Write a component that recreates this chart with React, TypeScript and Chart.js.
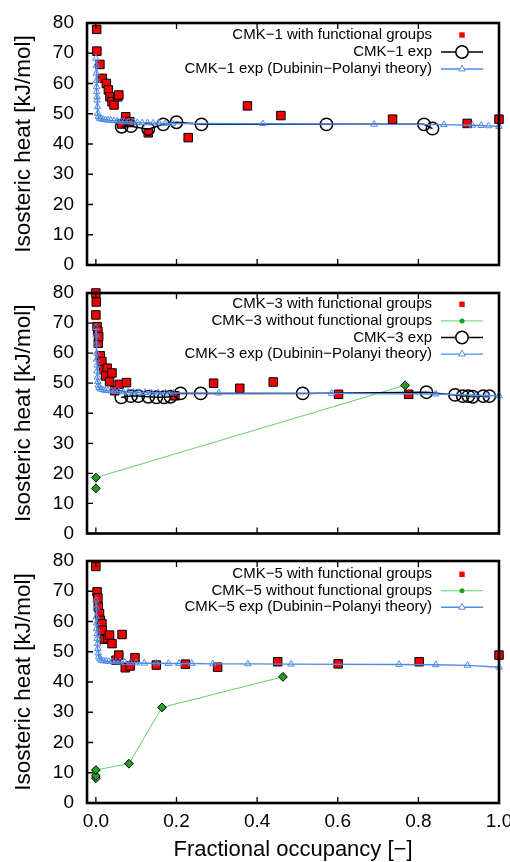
import React, { useEffect, useRef } from 'react';
import { Chart, registerables } from 'chart.js';

Chart.register(...registerables);

const FONT = '"Liberation Sans", Arial, Helvetica, sans-serif';

// ---------- axes ----------
const xTickValues = [0, 0.2, 0.4, 0.6, 0.8, 1.0];
const yTickValues = [0, 10, 20, 30, 40, 50, 60, 70, 80];
const X_MIN = -0.022;
const X_MAX = 1.0;
const Y_MIN = 0;
const Y_MAX = 80;
const yTitle = 'Isosteric heat [kJ/mol]';
const xTitle = 'Fractional occupancy [−]';

// ---------- CMK-1 ----------
const cmk1FgLabel = 'CMK−1 with functional groups';
const cmk1FgX = [0.002, 0.0025, 0.01, 0.016, 0.026, 0.031, 0.035, 0.04, 0.045, 0.054, 0.057, 0.074, 0.064, 0.084, 0.13, 0.229, 0.376, 0.459, 0.736, 0.921, 1.0];
const cmk1FgY = [77.9, 70.7, 66.3, 61.7, 60.0, 57.9, 55.6, 54.0, 52.9, 55.6, 56.2, 49.0, 46.6, 47.4, 43.7, 42.1, 52.6, 49.4, 48.2, 46.8, 48.2];

const cmk1ExpLabel = 'CMK−1 exp';
const cmk1ExpX = [0.064, 0.087, 0.13, 0.167, 0.2, 0.262, 0.572, 0.814, 0.835];
const cmk1ExpY = [45.7, 45.9, 44.9, 46.5, 47.2, 46.5, 46.5, 46.5, 45.1];

const cmk1DpLabel = 'CMK−1 exp (Dubinin−Polanyi theory)';
const cmk1DpX = [0.0, 0.001, 0.001, 0.002, 0.002, 0.002, 0.003, 0.003, 0.004, 0.005, 0.006, 0.009, 0.013, 0.018, 0.024, 0.03, 0.037, 0.045, 0.053, 0.062, 0.071, 0.081, 0.092, 0.103, 0.115, 0.128, 0.142, 0.157, 0.172, 0.19, 0.414, 0.69, 0.863, 0.934, 0.956, 0.974, 1.0];
const cmk1DpY = [68.3, 66.0, 63.4, 61.0, 58.9, 57.3, 55.6, 54.5, 52.3, 50.1, 49.0, 48.5, 48.3, 48.1, 48.0, 47.9, 47.8, 47.7, 47.6, 47.5, 47.4, 47.3, 47.2, 47.1, 47.0, 47.0, 46.9, 46.9, 46.8, 46.8, 46.7, 46.5, 46.4, 46.2, 46.1, 46.0, 45.8];

// ---------- CMK-3 ----------
const cmk3FgLabel = 'CMK−3 with functional groups';
const cmk3FgX = [0.0, 0.001, 0.0, 0.003, 0.005, 0.006, 0.007, 0.011, 0.015, 0.019, 0.028, 0.024, 0.034, 0.04, 0.047, 0.058, 0.076, 0.196, 0.292, 0.357, 0.44, 0.602, 0.776];
const cmk3FgY = [80.0, 77.0, 72.7, 68.8, 67.3, 63.3, 65.5, 59.1, 57.2, 54.5, 55.0, 52.4, 50.5, 53.4, 47.5, 49.6, 50.2, 45.8, 50.0, 48.3, 50.4, 46.3, 46.3];

const cmk3NoFgLabel = 'CMK−3 without functional groups';
const cmk3NoFgX = [0.0, 0.0, 0.767];
const cmk3NoFgY = [15.0, 18.6, 49.3];

const cmk3ExpLabel = 'CMK−3 exp';
const cmk3ExpX = [0.063, 0.087, 0.105, 0.13, 0.15, 0.169, 0.185, 0.21, 0.26, 0.513, 0.82, 0.891, 0.91, 0.924, 0.935, 0.961, 0.976];
const cmk3ExpY = [45.3, 45.7, 45.7, 45.5, 45.3, 45.3, 45.5, 46.6, 46.6, 46.6, 47.0, 46.1, 45.7, 45.7, 45.5, 45.7, 45.7];

const cmk3DpLabel = 'CMK−3 exp (Dubinin−Polanyi theory)';
const cmk3DpX = [0.0, 0.001, 0.001, 0.002, 0.002, 0.003, 0.003, 0.004, 0.005, 0.006, 0.008, 0.012, 0.017, 0.023, 0.03, 0.038, 0.047, 0.057, 0.068, 0.08, 0.093, 0.107, 0.122, 0.138, 0.155, 0.173, 0.192, 0.305, 0.585, 0.843, 0.94, 0.97, 1.0];
const cmk3DpY = [68.5, 66.0, 63.0, 60.0, 58.0, 56.0, 54.0, 52.0, 50.5, 49.3, 48.5, 48.0, 47.8, 47.6, 47.5, 47.4, 47.3, 47.2, 47.1, 47.0, 47.0, 46.9, 46.9, 46.8, 46.8, 46.7, 46.7, 46.7, 46.6, 46.4, 46.0, 45.9, 45.8];

// ---------- CMK-5 ----------
const cmk5FgLabel = 'CMK−5 with functional groups';
const cmk5FgX = [0.0, 0.003, 0.005, 0.006, 0.009, 0.011, 0.015, 0.016, 0.021, 0.03, 0.034, 0.04, 0.05, 0.057, 0.065, 0.073, 0.085, 0.097, 0.15, 0.222, 0.302, 0.451, 0.601, 0.802, 1.0];
const cmk5FgY = [78.2, 69.8, 67.8, 64.8, 62.6, 60.4, 59.3, 57.1, 54.1, 54.4, 55.5, 52.7, 47.2, 48.9, 55.7, 44.7, 45.3, 48.0, 45.6, 45.9, 44.9, 46.7, 46.0, 46.7, 48.9];

const cmk5NoFgLabel = 'CMK−5 without functional groups';
const cmk5NoFgX = [0.0, 0.0, 0.0, 0.082, 0.164, 0.464];
const cmk5NoFgY = [8.2, 9.0, 10.9, 13.0, 31.6, 41.7];

const cmk5DpLabel = 'CMK−5 exp (Dubinin−Polanyi theory)';
const cmk5DpX = [0.0, 0.001, 0.001, 0.002, 0.002, 0.003, 0.003, 0.004, 0.005, 0.006, 0.007, 0.01, 0.014, 0.019, 0.025, 0.032, 0.04, 0.05, 0.06, 0.072, 0.085, 0.1, 0.12, 0.15, 0.18, 0.206, 0.238, 0.29, 0.377, 0.484, 0.752, 0.843, 0.922, 1.0];
const cmk5DpY = [67.0, 64.5, 61.5, 59.5, 57.7, 56.0, 54.4, 52.7, 51.1, 49.6, 48.3, 47.6, 47.2, 47.0, 46.9, 46.8, 46.7, 46.6, 46.6, 46.5, 46.4, 46.3, 46.2, 46.2, 46.1, 46.1, 46.1, 46.0, 46.0, 45.9, 45.8, 45.7, 45.5, 44.9];

// ---------- styles ----------
const RED = '#f00000';
const BLUE = '#4f8ae8';
const GREEN_LINE = '#62d262';
const GREEN_FILL = '#1f9e1f';

const pts = (xs: number[], ys: number[]) => xs.map((x, i) => ({ x, y: ys[i] }));

const fgDataset = (label: string, xs: number[], ys: number[]) => ({
  label,
  data: pts(xs, ys),
  showLine: false,
  pointStyle: 'rect',
  pointRadius: 6,
  pointBackgroundColor: RED,
  pointBorderColor: '#000',
  pointBorderWidth: 1,
  borderColor: RED,
  backgroundColor: RED,
  clip: false,
  order: 4,
});

const noFgDataset = (label: string, xs: number[], ys: number[]) => ({
  label,
  data: pts(xs, ys),
  showLine: true,
  borderColor: GREEN_LINE,
  borderWidth: 1,
  pointStyle: 'rectRot',
  pointRadius: 4.4,
  pointBackgroundColor: GREEN_FILL,
  pointBorderColor: '#000',
  pointBorderWidth: 1,
  clip: false,
  order: 3,
});

const expDataset = (label: string, xs: number[], ys: number[]) => ({
  label,
  data: pts(xs, ys),
  showLine: true,
  borderColor: '#000',
  borderWidth: 1.5,
  pointStyle: 'circle',
  pointRadius: 6.2,
  pointBackgroundColor: 'rgba(0,0,0,0)',
  pointBorderColor: '#000',
  pointBorderWidth: 1.5,
  clip: false,
  order: 2,
});

const dpDataset = (label: string, xs: number[], ys: number[]) => ({
  label,
  data: pts(xs, ys),
  showLine: true,
  borderColor: BLUE,
  borderWidth: 1.4,
  pointStyle: 'triangle',
  pointRadius: 3.8,
  pointBackgroundColor: 'rgba(255,255,255,0)',
  pointBorderColor: BLUE,
  pointBorderWidth: 1,
  clip: false,
  order: 1,
});

// ---------- drawing helpers ----------
function drawMarker(ctx: CanvasRenderingContext2D, kind: string, x: number, y: number) {
  ctx.save();
  if (kind === 'smallRect') {
    ctx.fillStyle = RED;
    ctx.fillRect(x - 2.7, y - 2.7, 5.4, 5.4);
  } else if (kind === 'dot') {
    ctx.fillStyle = GREEN_FILL;
    ctx.beginPath();
    ctx.arc(x, y, 2.5, 0, Math.PI * 2);
    ctx.fill();
  } else if (kind === 'circle') {
    ctx.strokeStyle = '#000';
    ctx.lineWidth = 1.5;
    ctx.beginPath();
    ctx.arc(x, y, 6.2, 0, Math.PI * 2);
    ctx.fillStyle = '#fff';
    ctx.fill();
    ctx.stroke();
  } else if (kind === 'triangle') {
    const r = 3.8;
    ctx.strokeStyle = BLUE;
    ctx.lineWidth = 1;
    ctx.beginPath();
    for (let k = 0; k < 3; k++) {
      const a = (k * 2 * Math.PI) / 3;
      const px = x + Math.sin(a) * r;
      const py = y - Math.cos(a) * r;
      if (k === 0) ctx.moveTo(px, py);
      else ctx.lineTo(px, py);
    }
    ctx.closePath();
    ctx.fillStyle = '#fff';
    ctx.fill();
    ctx.stroke();
  }
  ctx.restore();
}

const framePlugin = {
  id: 'gnuFrame',
  afterDatasetsDraw(chart: any) {
    const { ctx, chartArea: a, scales } = chart;
    const tl = 6;
    ctx.save();
    ctx.strokeStyle = '#000';
    ctx.lineWidth = 1.3;
    ctx.beginPath();
    scales.x.ticks.forEach((t: any) => {
      const px = scales.x.getPixelForValue(t.value);
      ctx.moveTo(px, a.bottom);
      ctx.lineTo(px, a.bottom - tl);
      ctx.moveTo(px, a.top);
      ctx.lineTo(px, a.top + tl);
    });
    scales.y.ticks.forEach((t: any) => {
      const py = scales.y.getPixelForValue(t.value);
      ctx.moveTo(a.left, py);
      ctx.lineTo(a.left + tl, py);
    });
    ctx.stroke();
    ctx.lineWidth = 2.6;
    ctx.strokeRect(a.left, a.top, a.right - a.left, a.bottom - a.top);
    ctx.restore();
  },
};

const legendPlugin = {
  id: 'gnuLegend',
  afterDraw(chart: any, _args: any, opts: any) {
    const ctx: CanvasRenderingContext2D = chart.ctx;
    const entries = opts.entries || [];
    ctx.save();
    ctx.font = `15px ${FONT}`;
    ctx.textAlign = 'right';
    ctx.textBaseline = 'middle';
    ctx.fillStyle = '#000';
    entries.forEach((e: any, i: number) => {
      const y = opts.y0 + i * opts.dy;
      const ds = chart.data.datasets[e.dataset];
      ctx.fillText(ds.label, opts.textRight, y);
      if (e.line) {
        ctx.strokeStyle = ds.borderColor;
        ctx.lineWidth = ds.borderWidth;
        ctx.beginPath();
        ctx.moveTo(opts.lineStart, y);
        ctx.lineTo(opts.lineEnd, y);
        ctx.stroke();
      }
      drawMarker(ctx, e.marker, (opts.lineStart + opts.lineEnd) / 2, y);
    });
    ctx.restore();
  },
};

type PanelProps = {
  top: number;
  height: number;
  padTop: number;
  xHeight: number;
  showX: boolean;
  datasets: any[];
  legend: any;
};

function Panel({ top, height, padTop, xHeight, showX, datasets, legend }: PanelProps) {
  const ref = useRef<HTMLCanvasElement | null>(null);
  useEffect(() => {
    if (!ref.current) return;
    const chart = new Chart(ref.current, {
      type: 'scatter',
      data: { datasets },
      plugins: [framePlugin, legendPlugin],
      options: {
        animation: false,
        responsive: false,
        maintainAspectRatio: false,
        layout: { padding: { top: padTop, right: 11, left: 0, bottom: 0 } },
        plugins: {
          legend: { display: false },
          tooltip: { enabled: false },
          gnuLegend: legend,
        } as any,
        scales: {
          x: {
            type: 'linear',
            min: X_MIN,
            max: X_MAX,
            afterBuildTicks: (s: any) => {
              s.ticks = xTickValues.map((v) => ({ value: v }));
            },
            afterFit: (s: any) => {
              s.height = xHeight;
              s.paddingLeft = 0;
              s.paddingRight = 0;
            },
            grid: { display: false, drawTicks: false },
            border: { display: false },
            ticks: {
              display: showX,
              padding: 7,
              maxRotation: 0,
              autoSkip: false,
              color: '#000',
              font: { family: FONT, size: 19 },
              callback: (v: any) => Number(v).toFixed(1),
            },
            title: {
              display: showX,
              text: xTitle,
              color: '#000',
              font: { family: FONT, size: 22, lineHeight: 1.1 },
              padding: { top: 0, bottom: 0 },
            },
          },
          y: {
            type: 'linear',
            min: Y_MIN,
            max: Y_MAX,
            afterBuildTicks: (s: any) => {
              s.ticks = yTickValues.map((v) => ({ value: v }));
            },
            afterFit: (s: any) => {
              s.width = 87;
              s.paddingTop = 0;
              s.paddingBottom = 0;
            },
            grid: { display: false, drawTicks: false },
            border: { display: false },
            ticks: {
              padding: 13,
              autoSkip: false,
              color: '#000',
              font: { family: FONT, size: 19 },
            },
            title: {
              display: true,
              text: yTitle,
              color: '#000',
              font: { family: FONT, size: 22.5, lineHeight: 1.2 },
              padding: { top: 10, bottom: 0 },
            },
          },
        },
      } as any,
    });
    return () => chart.destroy();
  }, []);
  return (
    <canvas
      ref={ref}
      width={510}
      height={height}
      style={{ position: 'absolute', left: 0, top, width: 510, height, display: 'block' }}
    />
  );
}

const legendGeom = { textRight: 432, lineStart: 441, lineEnd: 483 };

export default function App() {
  const ds1 = [
    fgDataset(cmk1FgLabel, cmk1FgX, cmk1FgY),
    expDataset(cmk1ExpLabel, cmk1ExpX, cmk1ExpY),
    dpDataset(cmk1DpLabel, cmk1DpX, cmk1DpY),
  ];
  const ds2 = [
    fgDataset(cmk3FgLabel, cmk3FgX, cmk3FgY),
    noFgDataset(cmk3NoFgLabel, cmk3NoFgX, cmk3NoFgY),
    expDataset(cmk3ExpLabel, cmk3ExpX, cmk3ExpY),
    dpDataset(cmk3DpLabel, cmk3DpX, cmk3DpY),
  ];
  const ds3 = [
    fgDataset(cmk5FgLabel, cmk5FgX, cmk5FgY),
    noFgDataset(cmk5NoFgLabel, cmk5NoFgX, cmk5NoFgY),
    dpDataset(cmk5DpLabel, cmk5DpX, cmk5DpY),
  ];
  return (
    <div style={{ position: 'absolute', left: 0, top: 0, width: 510, height: 862, background: '#fff', overflow: 'hidden' }}>
      <Panel
        top={0}
        height={280}
        padTop={23}
        xHeight={15}
        showX={false}
        datasets={ds1}
        legend={{
          ...legendGeom,
          y0: 35,
          dy: 17,
          entries: [
            { dataset: 0, line: false, marker: 'smallRect' },
            { dataset: 1, line: true, marker: 'circle' },
            { dataset: 2, line: true, marker: 'triangle' },
          ],
        }}
      />
      <Panel
        top={280}
        height={265}
        padTop={13}
        xHeight={11.5}
        showX={false}
        datasets={ds2}
        legend={{
          ...legendGeom,
          y0: 24.3,
          dy: 16.6,
          entries: [
            { dataset: 0, line: false, marker: 'smallRect' },
            { dataset: 1, line: true, marker: 'dot' },
            { dataset: 2, line: true, marker: 'circle' },
            { dataset: 3, line: true, marker: 'triangle' },
          ],
        }}
      />
      <Panel
        top={545}
        height={317}
        padTop={16}
        xHeight={59}
        showX={true}
        datasets={ds3}
        legend={{
          ...legendGeom,
          y0: 29.3,
          dy: 16.5,
          entries: [
            { dataset: 0, line: false, marker: 'smallRect' },
            { dataset: 1, line: true, marker: 'dot' },
            { dataset: 2, line: true, marker: 'triangle' },
          ],
        }}
      />
    </div>
  );
}
